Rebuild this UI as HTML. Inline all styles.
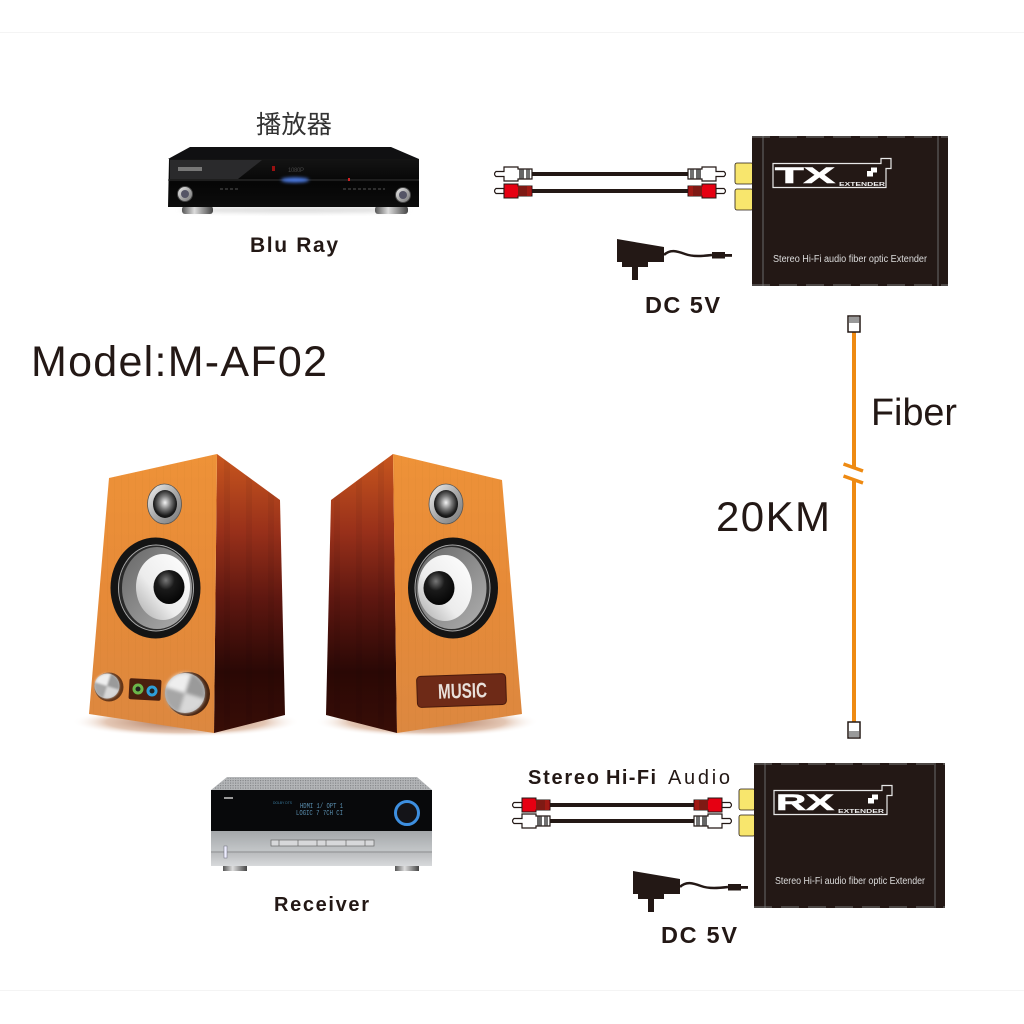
<!DOCTYPE html>
<html><head><meta charset="utf-8"><style>html,body{margin:0;padding:0;background:#fff}svg{display:block}text{font-family:"Liberation Sans","Noto Sans CJK SC",sans-serif;fill:#231815}</style></head>
<body>
<svg xmlns="http://www.w3.org/2000/svg" width="1024" height="1024" viewBox="0 0 1024 1024">
<defs>
<linearGradient id="frontL" x1="0" y1="0" x2="0" y2="1"><stop offset="0" stop-color="#ee9238"/><stop offset=".5" stop-color="#e68a38"/><stop offset="1" stop-color="#dc8840"/></linearGradient>
<linearGradient id="side" x1="0" y1="0" x2="0" y2="1"><stop offset="0" stop-color="#c8561e"/><stop offset=".28" stop-color="#98301a"/><stop offset=".52" stop-color="#5e1710"/><stop offset=".78" stop-color="#2a0805"/><stop offset="1" stop-color="#380d06"/></linearGradient>
<pattern id="grainS" width="22" height="20" patternUnits="userSpaceOnUse"><rect x="4" width="6" height="20" fill="#000" opacity=".05"/></pattern>
<pattern id="grainF" width="7" height="20" patternUnits="userSpaceOnUse"><rect x="2" width="1" height="20" fill="#a85a18" opacity=".05"/></pattern>
<pattern id="dots" width="2.500" height="2.500" patternUnits="userSpaceOnUse"><rect width="1.200" height="1.200" fill="#5e6062"/></pattern>
<linearGradient id="metal" x1="0" y1="0" x2="1" y2="1"><stop offset="0" stop-color="#f5f5f5"/><stop offset=".5" stop-color="#aaa"/><stop offset="1" stop-color="#777"/></linearGradient>
<linearGradient id="cone" x1="1" y1="0" x2="0" y2="1"><stop offset="0" stop-color="#fff"/><stop offset=".6" stop-color="#ececec"/><stop offset="1" stop-color="#a8a8a8"/></linearGradient>
<linearGradient id="surround" x1="0" y1="0" x2="1" y2="1"><stop offset="0" stop-color="#666"/><stop offset=".5" stop-color="#8c8c8c"/><stop offset="1" stop-color="#b0b0b0"/></linearGradient>
<radialGradient id="dome" cx=".4" cy=".3" r=".8"><stop offset="0" stop-color="#777"/><stop offset=".35" stop-color="#1a1a1a"/><stop offset="1" stop-color="#000"/></radialGradient>
<radialGradient id="tw" cx=".5" cy=".45" r=".55"><stop offset="0" stop-color="#f4f4f4"/><stop offset=".45" stop-color="#777"/><stop offset=".85" stop-color="#1c1c1c"/><stop offset="1" stop-color="#111"/></radialGradient>
<radialGradient id="shadow" cx=".5" cy=".5" r=".5"><stop offset="0" stop-color="#7a300c" stop-opacity=".75"/><stop offset=".7" stop-color="#b56a3a" stop-opacity=".38"/><stop offset="1" stop-color="#fff" stop-opacity="0"/></radialGradient>
<linearGradient id="player" x1="0" y1="0" x2="0" y2="1"><stop offset="0" stop-color="#141414"/><stop offset=".5" stop-color="#060606"/><stop offset="1" stop-color="#0c0c0c"/></linearGradient>
<linearGradient id="silver" x1="0" y1="0" x2="0" y2="1"><stop offset="0" stop-color="#a4a7aa"/><stop offset=".55" stop-color="#c2c5c7"/><stop offset=".6" stop-color="#b8babc"/><stop offset="1" stop-color="#d8dadc"/></linearGradient>
<linearGradient id="foot" x1="0" y1="0" x2="1" y2="0"><stop offset="0" stop-color="#555"/><stop offset=".4" stop-color="#ddd"/><stop offset="1" stop-color="#444"/></linearGradient>
<filter id="b1" x="-10%" y="-50%" width="120%" height="200%"><feGaussianBlur stdDeviation="2"/></filter>
<filter id="b2" x="-50%" y="-50%" width="200%" height="200%"><feGaussianBlur stdDeviation="1.500"/></filter>
<filter id="bk" x="-20%" y="-20%" width="140%" height="140%"><feGaussianBlur stdDeviation=".09"/></filter>

<g id="knob">
  <circle r="1" fill="#bdbdbd"/>
  <g filter="url(#bk)">
  <path d="M0 0L-.95 -.3A1 1 0 0 1 .3 -.95Z" fill="#eeeeee"/>
  <path d="M0 0L.95 .3A1 1 0 0 1 -.3 .95Z" fill="#d8d8d8"/>
  <path d="M0 0L.3 -.95A1 1 0 0 1 .95 .3Z" fill="#9a9a9a"/>
  <path d="M0 0L-.3 .95A1 1 0 0 1 -.95 -.3Z" fill="#a6a6a6"/>
  </g>
</g>
<g id="plugW">
  <path d="M1 -2.500H9V-7H23V-5H37V5H23V7H9V2.500H1Q-2 0 1 -2.500Z" fill="#fff" stroke="#231815" stroke-width="1.200"/>
  <rect x="24" y="-4.500" width="5" height="9" fill="#666"/><rect x="31" y="-4.500" width="4" height="9" fill="#707070"/>
</g>
<g id="plugR">
  <path d="M1 -2.500H9V2.500H1Q-2 0 1 -2.500Z" fill="#fff" stroke="#231815" stroke-width="1.200"/>
  <path d="M9 -7H23V-5H37V5H23V7H9Z" fill="#e60012" stroke="#231815" stroke-width="1"/>
  <rect x="23" y="-5" width="9" height="10" fill="#7e1a14"/><rect x="32" y="-5" width="4" height="10" fill="#a01a14"/>
</g>
<g id="adapter">
  <path d="M0 0L47 8V23H31V28H21V41H15V28H5V23H0Z" fill="#231815"/>
  <path d="M47 16C53 10 60 12 68 15C76 18 86 17 95 16" fill="none" stroke="#231815" stroke-width="2.500"/>
  <rect x="95" y="13" width="13" height="6.500" fill="#231815"/><rect x="108" y="15" width="7" height="2.800" fill="#231815"/>
</g>
<g id="badge">
  <path d="M0 5H108V0H118V10H113V29H0Z" fill="none" stroke="#e8e8e8" stroke-width="1.200"/>
  <path d="M98 9H104V14H100V18H94V12.500H98Z" fill="#fff"/>
</g>
</defs>

<rect width="1024" height="1024" fill="#fff"/>
<path d="M0 32.500H1024M0 990.500H1024" stroke="#f4f4f4" stroke-width="1"/>

<!-- Blu-ray player -->
<text x="256" y="133" font-size="25" textLength="76" lengthAdjust="spacingAndGlyphs" style="fill:#333">播放器</text>
<ellipse cx="294" cy="210" rx="115" ry="3" fill="#ddd" filter="url(#b1)"/>
<rect x="182" y="206" width="31" height="8" rx="3" fill="url(#foot)"/>
<rect x="375" y="206" width="33" height="8" rx="3" fill="url(#foot)"/>
<path d="M190 147H391L419 159H168Z" fill="#101012"/>
<path d="M169 159H419V207H168Z" fill="url(#player)"/>
<path d="M170 160H262L238 179H170Z" fill="#2a2a2c"/>
<path d="M168 180H419" stroke="#333" stroke-width="1"/>
<rect x="178" y="167" width="24" height="4" fill="#777"/>
<ellipse cx="295" cy="180" rx="14" ry="2.600" fill="#4a78e0" filter="url(#b2)"/>
<rect x="272" y="166" width="3" height="5" fill="#911"/>
<text x="288" y="172" font-size="6" textLength="16" style="fill:#444">1080P</text>
<rect x="348" y="178" width="2" height="3" fill="#c22"/>
<circle cx="185" cy="194" r="7.500" fill="url(#metal)" stroke="#444"/><circle cx="185" cy="194" r="4" fill="#556"/>
<circle cx="403" cy="195" r="7.500" fill="url(#metal)" stroke="#444"/><circle cx="403" cy="195" r="4" fill="#556"/>
<path d="M343 189H385M220 189H240" stroke="#555" stroke-width="1" stroke-dasharray="3 2"/>
<text x="250" y="252" font-size="21" font-weight="700" textLength="88">Blu Ray</text>

<!-- TX cables -->
<path d="M530 174H690" stroke="#231815" stroke-width="4"/>
<path d="M530 191H690" stroke="#231815" stroke-width="4"/>
<use href="#plugW" transform="translate(495,174)"/>
<use href="#plugR" transform="translate(495,191)"/>
<use href="#plugW" transform="translate(725,174) scale(-1,1)"/>
<use href="#plugR" transform="translate(725,191) scale(-1,1)"/>

<!-- TX box -->
<rect x="735" y="163" width="18" height="21" rx="2" fill="#f8e66d" stroke="#231815" stroke-width=".8"/>
<rect x="735" y="189" width="18" height="21" rx="2" fill="#f8e66d" stroke="#231815" stroke-width=".8"/>
<rect x="752" y="136" width="196" height="150" fill="#231815"/>
<path d="M763 136V286M938 136V286" stroke="#6a6a6a" stroke-width="1"/>
<path d="M752 137H948M752 285H948" stroke="#777" stroke-width="1" stroke-dasharray="18 9"/>
<use href="#badge" transform="translate(773,158.500)"/>
<text x="775" y="183" font-size="22" font-weight="700" textLength="60" lengthAdjust="spacingAndGlyphs" style="fill:#fff;stroke:#fff;stroke-width:.6">TX</text>
<text x="839" y="186" font-size="5.500" font-weight="700" textLength="46" lengthAdjust="spacingAndGlyphs" style="fill:#eee">EXTENDER</text>
<text x="773" y="262" font-size="10" textLength="154" lengthAdjust="spacingAndGlyphs" style="fill:#ddd">Stereo Hi-Fi audio fiber optic Extender</text>

<use href="#adapter" transform="translate(617,239)"/>
<text x="645" y="313" font-size="23.500" font-weight="700" textLength="75">DC 5V</text>

<text x="31" y="376" font-size="43" textLength="296">Model:M-AF02</text>

<!-- Fiber -->
<path d="M854 332V467M854 480V722" stroke="#ee8a12" stroke-width="4"/>
<path d="M843.500 464L863 471M843.500 476L863 483" stroke="#ee8a12" stroke-width="3.500"/>
<rect x="848" y="316" width="12" height="16" fill="#fff" stroke="#231815" stroke-width="1.500"/><rect x="849" y="317" width="10" height="6" fill="#999"/>
<rect x="848" y="722" width="12" height="16" fill="#fff" stroke="#231815" stroke-width="1.500"/><rect x="849" y="731" width="10" height="6" fill="#999"/>
<text x="871" y="425" font-size="38" textLength="86" lengthAdjust="spacingAndGlyphs">Fiber</text>
<text x="716" y="531" font-size="42" textLength="114">20KM</text>

<!-- Speaker shadows -->
<ellipse cx="186" cy="722" rx="114" ry="15" fill="url(#shadow)"/>
<ellipse cx="427" cy="722" rx="112" ry="15" fill="url(#shadow)"/>

<!-- Left speaker -->
<path d="M217 454L280 500L285 715L214 733Z" fill="url(#side)"/>
<path d="M217 454L280 500L285 715L214 733Z" fill="url(#grainS)"/>
<path d="M109 478L217 454L214 733L89 714Z" fill="url(#frontL)"/>
<path d="M109 478L217 454L214 733L89 714Z" fill="url(#grainF)"/>
<ellipse cx="164.500" cy="504" rx="17" ry="20" fill="url(#metal)" stroke="#555" stroke-width=".8"/>
<ellipse cx="165" cy="504" rx="12" ry="14" fill="url(#tw)"/>
<ellipse cx="155.500" cy="588" rx="45" ry="50.500" fill="#141414"/>
<ellipse cx="156" cy="588" rx="37.500" ry="43" fill="#2a2a2a" stroke="#aaa" stroke-width="1"/>
<ellipse cx="157" cy="588" rx="35" ry="41" fill="url(#surround)"/>
<ellipse cx="163" cy="587" rx="27" ry="33" fill="url(#cone)"/>
<ellipse cx="169" cy="587" rx="15.500" ry="17" fill="url(#dome)"/>
<circle cx="109" cy="687" r="14.500" fill="#3c1a0a" opacity=".75"/>
<use href="#knob" transform="translate(107,686) scale(12.500)"/>
<circle cx="188" cy="694" r="22" fill="#2e1206" opacity=".85"/>
<use href="#knob" transform="translate(185,693) scale(20)"/>
<rect x="129" y="679" width="32" height="21" rx="2" fill="#4a1f0e" transform="rotate(3 145 690)"/>
<circle cx="138" cy="689" r="5.500" fill="#6bb54a"/><circle cx="138" cy="689" r="2.500" fill="#222"/>
<circle cx="152" cy="691" r="5.500" fill="#2e9ed8"/><circle cx="152" cy="691" r="2.500" fill="#222"/>

<!-- Right speaker -->
<path d="M393 454L331 500L326 715L397 733Z" fill="url(#side)"/>
<path d="M393 454L331 500L326 715L397 733Z" fill="url(#grainS)"/>
<path d="M393 454L502 480L522 714L397 733Z" fill="url(#frontL)"/>
<path d="M393 454L502 480L522 714L397 733Z" fill="url(#grainF)"/>
<ellipse cx="446" cy="504" rx="17" ry="20" fill="url(#metal)" stroke="#555" stroke-width=".8"/>
<ellipse cx="446" cy="504" rx="12" ry="14" fill="url(#tw)"/>
<ellipse cx="453" cy="588" rx="45" ry="50.500" fill="#141414"/>
<ellipse cx="452.500" cy="588" rx="37.500" ry="43" fill="#2a2a2a" stroke="#aaa" stroke-width="1"/>
<ellipse cx="451.500" cy="588" rx="35" ry="41" fill="url(#surround)"/>
<ellipse cx="445" cy="588" rx="27" ry="33" fill="url(#cone)"/>
<ellipse cx="439" cy="588" rx="15.500" ry="17" fill="url(#dome)"/>
<rect x="417" y="675" width="89" height="31" rx="4" fill="#6e2a17" stroke="#4a1a0c" stroke-width="1" transform="rotate(-2 461 690)"/>
<text x="438" y="698" font-size="21" font-weight="700" textLength="49" lengthAdjust="spacingAndGlyphs" transform="rotate(-2 461 690)" style="fill:#e8e0da">MUSIC</text>

<!-- Receiver -->
<rect x="223" y="865" width="24" height="6" fill="url(#foot)"/>
<rect x="395" y="865" width="24" height="6" fill="url(#foot)"/>
<path d="M227 777H417L432 790H211Z" fill="#b4b6b8"/>
<path d="M227 778H417L430 789H213Z" fill="url(#dots)" opacity=".55"/>
<rect x="211" y="790" width="221" height="41" fill="#08090b"/>
<rect x="211" y="831" width="221" height="35" fill="url(#silver)"/>
<path d="M211 852H432" stroke="#8e9092" stroke-width="1"/>
<rect x="224" y="846" width="3" height="12" fill="#eef" stroke="#667" stroke-width=".5"/>
<rect x="271" y="840" width="103" height="6" fill="#d7d8da" stroke="#666" stroke-width=".7"/>
<path d="M279 840v6M298 840v6M317 840v6M326 840v6M346 840v6M365 840v6" stroke="#666" stroke-width=".7"/>
<text x="273" y="804" font-size="4" textLength="19" lengthAdjust="spacingAndGlyphs" style="fill:#3a7ca0">DOLBY DTS</text>
<text x="300" y="808" font-size="7.500" textLength="43" lengthAdjust="spacingAndGlyphs" style="fill:#5a8fb0;font-family:'Liberation Mono',monospace">HDMI 1/ OPT 1</text>
<text x="296" y="815" font-size="7.500" textLength="47" lengthAdjust="spacingAndGlyphs" style="fill:#5a8fb0;font-family:'Liberation Mono',monospace">LOGIC 7 7CH CI</text>
<circle cx="407" cy="813" r="11.500" fill="#141418" stroke="#3d8fe0" stroke-width="3"/>
<rect x="224" y="797" width="9" height="2" fill="#999"/>
<text x="274" y="911" font-size="20" font-weight="700" textLength="95">Receiver</text>

<!-- RX cables -->
<text x="528" y="784" font-size="20" font-weight="700" textLength="71">Stereo</text>
<text x="606" y="784" font-size="20" font-weight="700" textLength="50">Hi-Fi</text>
<text x="668" y="784" font-size="20" textLength="62">Audio</text>
<path d="M548 805H698" stroke="#231815" stroke-width="4"/>
<path d="M548 821H698" stroke="#231815" stroke-width="4"/>
<use href="#plugR" transform="translate(513,805)"/>
<use href="#plugW" transform="translate(513,821)"/>
<use href="#plugR" transform="translate(731,805) scale(-1,1)"/>
<use href="#plugW" transform="translate(731,821) scale(-1,1)"/>

<!-- RX box -->
<rect x="739" y="789" width="16" height="21" rx="2" fill="#f8e66d" stroke="#231815" stroke-width=".8"/>
<rect x="739" y="815" width="16" height="21" rx="2" fill="#f8e66d" stroke="#231815" stroke-width=".8"/>
<rect x="754" y="763" width="191" height="145" fill="#231815"/>
<path d="M765 763V908M935 763V908" stroke="#6a6a6a" stroke-width="1"/>
<path d="M754 764H945M754 907H945" stroke="#777" stroke-width="1" stroke-dasharray="18 9"/>
<use href="#badge" transform="translate(774,785.500)"/>
<text x="776" y="810" font-size="22" font-weight="700" textLength="58" lengthAdjust="spacingAndGlyphs" style="fill:#fff;stroke:#fff;stroke-width:.6">RX</text>
<text x="838" y="813" font-size="5.500" font-weight="700" textLength="46" lengthAdjust="spacingAndGlyphs" style="fill:#eee">EXTENDER</text>
<text x="775" y="884" font-size="10" textLength="150" lengthAdjust="spacingAndGlyphs" style="fill:#ddd">Stereo Hi-Fi audio fiber optic Extender</text>

<use href="#adapter" transform="translate(633,871)"/>
<text x="661" y="943" font-size="23.500" font-weight="700" textLength="76">DC 5V</text>
</svg>
</body></html>
